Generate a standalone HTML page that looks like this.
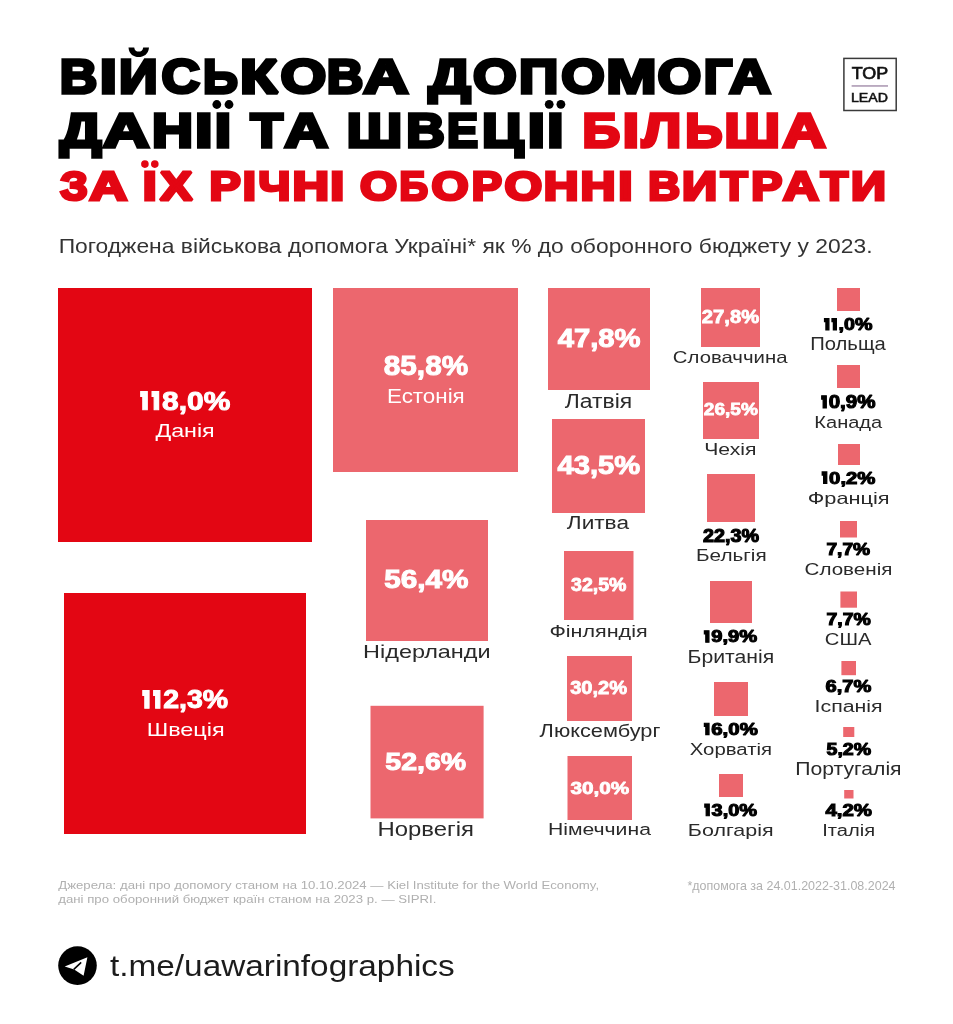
<!DOCTYPE html>
<html><head><meta charset="utf-8"><style>
html,body{margin:0;padding:0;background:#fff;}
svg{display:block;will-change:transform;}
text{font-family:"Liberation Sans",sans-serif;white-space:pre;}
</style></head><body>
<svg width="953" height="1024" viewBox="0 0 953 1024">
<rect x="0" y="0" width="953" height="1024" fill="#ffffff"/>
<rect x="58" y="288" width="254.0" height="254.0" fill="#e30613"/><rect x="64" y="593" width="242.0" height="241.0" fill="#e30613"/><rect x="333" y="288" width="185.0" height="184.0" fill="#ec676e"/><rect x="366" y="520" width="122.0" height="121.0" fill="#ec676e"/><rect x="370.5" y="705.8" width="113.1" height="112.6" fill="#ec676e"/><rect x="548" y="288" width="102.0" height="102.0" fill="#ec676e"/><rect x="552" y="419" width="93.0" height="94.0" fill="#ec676e"/><rect x="564" y="551" width="69.5" height="69.0" fill="#ec676e"/><rect x="567" y="656" width="65.0" height="65.0" fill="#ec676e"/><rect x="567.5" y="756" width="64.5" height="64.0" fill="#ec676e"/><rect x="701" y="288" width="59.0" height="59.0" fill="#ec676e"/><rect x="703" y="382" width="56.0" height="57.0" fill="#ec676e"/><rect x="707" y="474" width="48.0" height="48.0" fill="#ec676e"/><rect x="710" y="581" width="42.0" height="42.0" fill="#ec676e"/><rect x="714" y="682" width="34.0" height="34.0" fill="#ec676e"/><rect x="719" y="774" width="24.0" height="23.0" fill="#ec676e"/><rect x="837" y="288" width="23.0" height="23.0" fill="#ec676e"/><rect x="837" y="365" width="23.0" height="23.0" fill="#ec676e"/><rect x="838" y="444" width="22.0" height="21.0" fill="#ec676e"/><rect x="840" y="521" width="17.0" height="16.5" fill="#ec676e"/><rect x="840.4" y="591.5" width="16.6" height="16.2" fill="#ec676e"/><rect x="841.4" y="661" width="14.6" height="14.2" fill="#ec676e"/><rect x="843.2" y="727" width="11.1" height="10.0" fill="#ec676e"/><rect x="844.2" y="790" width="9.3" height="8.5" fill="#ec676e"/>
<rect x="843.9" y="58.4" width="52.3" height="52.1" fill="none" stroke="#3a3a3a" stroke-width="1.5"/><rect x="851.6" y="85.2" width="36.4" height="1.5" fill="#a994b0"/>
<circle cx="77.5" cy="965.6" r="19.3" fill="#000"/><path d="M64.7 966.6 L87.4 957.2 L83.6 975.8 L74.2 969.6 Z" fill="#fff"/><path d="M73.8 969.4 L81.2 962.4" stroke="#000" stroke-width="1.5" fill="none"/>
<circle cx="144.9" cy="164.1" r="3.8" fill="#e30613"/><circle cx="154.8" cy="164.1" r="3.8" fill="#e30613"/><circle cx="216.8" cy="104.5" r="4.4" fill="#000"/><circle cx="229" cy="104.5" r="4.4" fill="#000"/><circle cx="549.2" cy="104.3" r="4.4" fill="#000"/><circle cx="560.9" cy="104.3" r="4.4" fill="#000"/><path d="M128.5 47.5 C129 54.5 134 57 138.7 57 C143.4 57 148.4 54.5 149 47.5 L143.2 47.5 C142.8 50.5 141 51.6 138.7 51.6 C136.4 51.6 134.6 50.5 134.2 47.5 Z" fill="#000"/>
<text transform="translate(59.82,93.20) scale(1.0643,1)" font-size="48.84" font-weight="700" fill="#000000" stroke="#000000" stroke-width="3.40" stroke-linejoin="miter" stroke-miterlimit="2">В</text>
<text transform="translate(99.77,93.20) scale(1.2651,1)" font-size="48.84" font-weight="700" fill="#000000" stroke="#000000" stroke-width="3.40" stroke-linejoin="miter" stroke-miterlimit="2">І</text>
<text transform="translate(118.93,93.20) scale(1.1017,1)" font-size="48.84" font-weight="700" fill="#000000" stroke="#000000" stroke-width="3.40" stroke-linejoin="miter" stroke-miterlimit="2">И</text>
<text transform="translate(161.52,93.20) scale(1.0899,1)" font-size="48.84" font-weight="700" fill="#000000" stroke="#000000" stroke-width="3.40" stroke-linejoin="miter" stroke-miterlimit="2">С</text>
<text transform="translate(202.95,93.20) scale(0.9935,1)" font-size="48.84" font-weight="700" fill="#000000" stroke="#000000" stroke-width="3.40" stroke-linejoin="miter" stroke-miterlimit="2">Ь</text>
<text transform="translate(240.11,93.20) scale(1.2513,1)" font-size="48.84" font-weight="700" fill="#000000" stroke="#000000" stroke-width="3.40" stroke-linejoin="miter" stroke-miterlimit="2">К</text>
<text transform="translate(280.59,93.20) scale(1.2053,1)" font-size="48.84" font-weight="700" fill="#000000" stroke="#000000" stroke-width="3.40" stroke-linejoin="miter" stroke-miterlimit="2">О</text>
<text transform="translate(326.81,93.20) scale(1.0375,1)" font-size="48.84" font-weight="700" fill="#000000" stroke="#000000" stroke-width="3.40" stroke-linejoin="miter" stroke-miterlimit="2">В</text>
<text transform="translate(363.14,93.20) scale(1.2818,1)" font-size="48.84" font-weight="700" fill="#000000" stroke="#000000" stroke-width="3.40" stroke-linejoin="miter" stroke-miterlimit="2">А</text>
<text transform="translate(428.48,93.20) scale(1.2126,1)" font-size="48.84" font-weight="700" fill="#000000" stroke="#000000" stroke-width="3.40" stroke-linejoin="miter" stroke-miterlimit="2">Д</text>
<text transform="translate(473.09,93.20) scale(1.1522,1)" font-size="48.84" font-weight="700" fill="#000000" stroke="#000000" stroke-width="3.40" stroke-linejoin="miter" stroke-miterlimit="2">О</text>
<text transform="translate(518.94,93.20) scale(1.1201,1)" font-size="48.84" font-weight="700" fill="#000000" stroke="#000000" stroke-width="3.40" stroke-linejoin="miter" stroke-miterlimit="2">П</text>
<text transform="translate(561.20,93.20) scale(1.1463,1)" font-size="48.84" font-weight="700" fill="#000000" stroke="#000000" stroke-width="3.40" stroke-linejoin="miter" stroke-miterlimit="2">О</text>
<text transform="translate(606.36,93.20) scale(1.2358,1)" font-size="48.84" font-weight="700" fill="#000000" stroke="#000000" stroke-width="3.40" stroke-linejoin="miter" stroke-miterlimit="2">М</text>
<text transform="translate(657.59,93.20) scale(1.1522,1)" font-size="48.84" font-weight="700" fill="#000000" stroke="#000000" stroke-width="3.40" stroke-linejoin="miter" stroke-miterlimit="2">О</text>
<text transform="translate(703.84,93.20) scale(1.0271,1)" font-size="48.84" font-weight="700" fill="#000000" stroke="#000000" stroke-width="3.40" stroke-linejoin="miter" stroke-miterlimit="2">Г</text>
<text transform="translate(729.27,93.20) scale(1.1781,1)" font-size="48.84" font-weight="700" fill="#000000" stroke="#000000" stroke-width="3.40" stroke-linejoin="miter" stroke-miterlimit="2">А</text>
<text transform="translate(60.09,146.70) scale(1.2208,1)" font-size="47.68" font-weight="700" fill="#000000" stroke="#000000" stroke-width="3.40" stroke-linejoin="miter" stroke-miterlimit="2">Д</text>
<text transform="translate(103.10,146.70) scale(1.3444,1)" font-size="47.68" font-weight="700" fill="#000000" stroke="#000000" stroke-width="3.40" stroke-linejoin="miter" stroke-miterlimit="2">А</text>
<text transform="translate(152.10,146.70) scale(1.1917,1)" font-size="47.68" font-weight="700" fill="#000000" stroke="#000000" stroke-width="3.40" stroke-linejoin="miter" stroke-miterlimit="2">Н</text>
<text transform="translate(195.07,146.70) scale(1.3251,1)" font-size="47.68" font-weight="700" fill="#000000" stroke="#000000" stroke-width="3.40" stroke-linejoin="miter" stroke-miterlimit="2">І</text>
<text transform="translate(214.85,146.70) scale(1.2378,1)" font-size="47.68" font-weight="700" fill="#000000" stroke="#000000" stroke-width="3.40" stroke-linejoin="miter" stroke-miterlimit="2">І</text>
<text transform="translate(250.60,146.70) scale(1.1113,1)" font-size="47.68" font-weight="700" fill="#000000" stroke="#000000" stroke-width="3.40" stroke-linejoin="miter" stroke-miterlimit="2">Т</text>
<text transform="translate(284.60,146.70) scale(1.2631,1)" font-size="47.68" font-weight="700" fill="#000000" stroke="#000000" stroke-width="3.40" stroke-linejoin="miter" stroke-miterlimit="2">А</text>
<text transform="translate(346.71,146.70) scale(1.1558,1)" font-size="47.68" font-weight="700" fill="#000000" stroke="#000000" stroke-width="3.40" stroke-linejoin="miter" stroke-miterlimit="2">Ш</text>
<text transform="translate(406.14,146.70) scale(1.1178,1)" font-size="47.68" font-weight="700" fill="#000000" stroke="#000000" stroke-width="3.40" stroke-linejoin="miter" stroke-miterlimit="2">В</text>
<text transform="translate(446.89,146.70) scale(0.9758,1)" font-size="47.68" font-weight="700" fill="#000000" stroke="#000000" stroke-width="3.40" stroke-linejoin="miter" stroke-miterlimit="2">Е</text>
<text transform="translate(482.11,146.70) scale(1.1890,1)" font-size="47.68" font-weight="700" fill="#000000" stroke="#000000" stroke-width="3.40" stroke-linejoin="miter" stroke-miterlimit="2">Ц</text>
<text transform="translate(527.67,146.70) scale(1.2960,1)" font-size="47.68" font-weight="700" fill="#000000" stroke="#000000" stroke-width="3.40" stroke-linejoin="miter" stroke-miterlimit="2">І</text>
<text transform="translate(547.30,146.70) scale(1.2232,1)" font-size="47.68" font-weight="700" fill="#000000" stroke="#000000" stroke-width="3.40" stroke-linejoin="miter" stroke-miterlimit="2">І</text>
<text transform="translate(582.60,146.70) scale(1.0961,1)" font-size="47.68" font-weight="700" fill="#e30613" stroke="#e30613" stroke-width="3.40" stroke-linejoin="miter" stroke-miterlimit="2">Б</text>
<text transform="translate(622.70,146.70) scale(1.2232,1)" font-size="47.68" font-weight="700" fill="#e30613" stroke="#e30613" stroke-width="3.40" stroke-linejoin="miter" stroke-miterlimit="2">І</text>
<text transform="translate(642.08,146.70) scale(1.1704,1)" font-size="47.68" font-weight="700" fill="#e30613" stroke="#e30613" stroke-width="3.40" stroke-linejoin="miter" stroke-miterlimit="2">Л</text>
<text transform="translate(685.24,146.70) scale(1.0858,1)" font-size="47.68" font-weight="700" fill="#e30613" stroke="#e30613" stroke-width="3.40" stroke-linejoin="miter" stroke-miterlimit="2">Ь</text>
<text transform="translate(724.51,146.70) scale(1.1558,1)" font-size="47.68" font-weight="700" fill="#e30613" stroke="#e30613" stroke-width="3.40" stroke-linejoin="miter" stroke-miterlimit="2">Ш</text>
<text transform="translate(782.82,146.70) scale(1.2475,1)" font-size="47.68" font-weight="700" fill="#e30613" stroke="#e30613" stroke-width="3.40" stroke-linejoin="miter" stroke-miterlimit="2">А</text>
<text transform="translate(60.24,200.37) scale(1.0866,1)" font-size="40.47" font-weight="700" fill="#e30613" stroke="#e30613" stroke-width="3.06" stroke-linejoin="miter" stroke-miterlimit="2">З</text>
<text transform="translate(89.53,200.37) scale(1.2907,1)" font-size="40.47" font-weight="700" fill="#e30613" stroke="#e30613" stroke-width="3.06" stroke-linejoin="miter" stroke-miterlimit="2">А</text>
<text transform="translate(142.87,200.37) scale(1.2421,1)" font-size="40.47" font-weight="700" fill="#e30613" stroke="#e30613" stroke-width="3.06" stroke-linejoin="miter" stroke-miterlimit="2">І</text>
<text transform="translate(160.00,200.37) scale(1.2002,1)" font-size="40.47" font-weight="700" fill="#e30613" stroke="#e30613" stroke-width="3.06" stroke-linejoin="miter" stroke-miterlimit="2">Х</text>
<text transform="translate(209.39,200.37) scale(1.1589,1)" font-size="40.47" font-weight="700" fill="#e30613" stroke="#e30613" stroke-width="3.06" stroke-linejoin="miter" stroke-miterlimit="2">Р</text>
<text transform="translate(242.75,200.37) scale(1.1735,1)" font-size="40.47" font-weight="700" fill="#e30613" stroke="#e30613" stroke-width="3.06" stroke-linejoin="miter" stroke-miterlimit="2">І</text>
<text transform="translate(258.60,200.37) scale(1.1193,1)" font-size="40.47" font-weight="700" fill="#e30613" stroke="#e30613" stroke-width="3.06" stroke-linejoin="miter" stroke-miterlimit="2">Ч</text>
<text transform="translate(292.55,200.37) scale(1.2501,1)" font-size="40.47" font-weight="700" fill="#e30613" stroke="#e30613" stroke-width="3.06" stroke-linejoin="miter" stroke-miterlimit="2">Н</text>
<text transform="translate(330.37,200.37) scale(1.2421,1)" font-size="40.47" font-weight="700" fill="#e30613" stroke="#e30613" stroke-width="3.06" stroke-linejoin="miter" stroke-miterlimit="2">І</text>
<text transform="translate(360.07,200.37) scale(1.1787,1)" font-size="40.47" font-weight="700" fill="#e30613" stroke="#e30613" stroke-width="3.06" stroke-linejoin="miter" stroke-miterlimit="2">О</text>
<text transform="translate(399.58,200.37) scale(0.9801,1)" font-size="40.47" font-weight="700" fill="#e30613" stroke="#e30613" stroke-width="3.06" stroke-linejoin="miter" stroke-miterlimit="2">Б</text>
<text transform="translate(431.57,200.37) scale(1.1787,1)" font-size="40.47" font-weight="700" fill="#e30613" stroke="#e30613" stroke-width="3.06" stroke-linejoin="miter" stroke-miterlimit="2">О</text>
<text transform="translate(471.80,200.37) scale(1.1196,1)" font-size="40.47" font-weight="700" fill="#e30613" stroke="#e30613" stroke-width="3.06" stroke-linejoin="miter" stroke-miterlimit="2">Р</text>
<text transform="translate(504.54,200.37) scale(1.1964,1)" font-size="40.47" font-weight="700" fill="#e30613" stroke="#e30613" stroke-width="3.06" stroke-linejoin="miter" stroke-miterlimit="2">О</text>
<text transform="translate(543.71,200.37) scale(1.1913,1)" font-size="40.47" font-weight="700" fill="#e30613" stroke="#e30613" stroke-width="3.06" stroke-linejoin="miter" stroke-miterlimit="2">Н</text>
<text transform="translate(580.48,200.37) scale(1.1997,1)" font-size="40.47" font-weight="700" fill="#e30613" stroke="#e30613" stroke-width="3.06" stroke-linejoin="miter" stroke-miterlimit="2">Н</text>
<text transform="translate(618.17,200.37) scale(1.2764,1)" font-size="40.47" font-weight="700" fill="#e30613" stroke="#e30613" stroke-width="3.06" stroke-linejoin="miter" stroke-miterlimit="2">І</text>
<text transform="translate(648.29,200.37) scale(1.0876,1)" font-size="40.47" font-weight="700" fill="#e30613" stroke="#e30613" stroke-width="3.06" stroke-linejoin="miter" stroke-miterlimit="2">В</text>
<text transform="translate(682.08,200.37) scale(1.2089,1)" font-size="40.47" font-weight="700" fill="#e30613" stroke="#e30613" stroke-width="3.06" stroke-linejoin="miter" stroke-miterlimit="2">И</text>
<text transform="translate(720.74,200.37) scale(1.0844,1)" font-size="40.47" font-weight="700" fill="#e30613" stroke="#e30613" stroke-width="3.06" stroke-linejoin="miter" stroke-miterlimit="2">Т</text>
<text transform="translate(751.22,200.37) scale(1.1502,1)" font-size="40.47" font-weight="700" fill="#e30613" stroke="#e30613" stroke-width="3.06" stroke-linejoin="miter" stroke-miterlimit="2">Р</text>
<text transform="translate(782.99,200.37) scale(1.2281,1)" font-size="40.47" font-weight="700" fill="#e30613" stroke="#e30613" stroke-width="3.06" stroke-linejoin="miter" stroke-miterlimit="2">А</text>
<text transform="translate(820.63,200.37) scale(1.1054,1)" font-size="40.47" font-weight="700" fill="#e30613" stroke="#e30613" stroke-width="3.06" stroke-linejoin="miter" stroke-miterlimit="2">Т</text>
<text transform="translate(851.00,200.37) scale(1.2005,1)" font-size="40.47" font-weight="700" fill="#e30613" stroke="#e30613" stroke-width="3.06" stroke-linejoin="miter" stroke-miterlimit="2">И</text>
<text transform="translate(58.65,252.90) scale(1.0996,1)" font-size="20.79" font-weight="400" fill="#333333">Погоджена військова допомога Україні* як % до оборонного бюджету у 2023.</text>
<g transform="translate(139.35,409.70) scale(1.1354,1)" fill="#ffffff" stroke="#ffffff" stroke-width="1.00" stroke-linejoin="miter" stroke-miterlimit="2"><text font-size="26.35" font-weight="700" dx="0.00 -4.64 -4.64 0.00 0.00 0.00">  8,0%</text><path d="M3.03 0.00H6.98V-18.13H1.19V-13.18H3.03ZM13.04 0.00H17.00V-18.13H11.20V-13.18H13.04Z"/></g>
<text transform="translate(155.43,436.60) scale(1.2307,1)" font-size="18.90" font-weight="400" fill="#ffffff">Данія</text>
<g transform="translate(141.52,708.30) scale(1.1057,1)" fill="#ffffff" stroke="#ffffff" stroke-width="1.00" stroke-linejoin="miter" stroke-miterlimit="2"><text font-size="25.78" font-weight="700" dx="0.00 -4.54 -4.54 0.00 0.00 0.00">  2,3%</text><path d="M2.96 0.00H6.83V-17.74H1.16V-12.89H2.96ZM12.76 0.00H16.63V-17.74H10.96V-12.89H12.76Z"/></g>
<text transform="translate(146.68,735.50) scale(1.2219,1)" font-size="19.19" font-weight="400" fill="#ffffff">Швеція</text>
<text transform="translate(383.75,374.90) scale(1.0886,1)" font-size="27.35" font-weight="700" fill="#ffffff" stroke="#ffffff" stroke-width="1.00" stroke-linejoin="miter" stroke-miterlimit="2">85,8%</text>
<text transform="translate(386.96,402.50) scale(1.0622,1)" font-size="21.08" font-weight="400" fill="#ffffff">Естонія</text>
<text transform="translate(384.19,588.30) scale(1.1862,1)" font-size="25.06" font-weight="700" fill="#ffffff" stroke="#ffffff" stroke-width="1.00" stroke-linejoin="miter" stroke-miterlimit="2">56,4%</text>
<text transform="translate(363.08,658.20) scale(1.2221,1)" font-size="19.19" font-weight="400" fill="#2a2a2a">Нідерланди</text>
<text transform="translate(385.32,769.50) scale(1.1723,1)" font-size="24.35" font-weight="700" fill="#ffffff" stroke="#ffffff" stroke-width="1.00" stroke-linejoin="miter" stroke-miterlimit="2">52,6%</text>
<text transform="translate(377.44,835.60) scale(1.2269,1)" font-size="19.48" font-weight="400" fill="#2a2a2a">Норвегія</text>
<text transform="translate(557.66,347.20) scale(1.1219,1)" font-size="26.07" font-weight="700" fill="#ffffff" stroke="#ffffff" stroke-width="1.00" stroke-linejoin="miter" stroke-miterlimit="2">47,8%</text>
<text transform="translate(564.80,407.80) scale(1.1032,1)" font-size="20.79" font-weight="400" fill="#2a2a2a">Латвія</text>
<text transform="translate(557.56,473.60) scale(1.1706,1)" font-size="24.92" font-weight="700" fill="#ffffff" stroke="#ffffff" stroke-width="1.00" stroke-linejoin="miter" stroke-miterlimit="2">43,5%</text>
<text transform="translate(566.80,529.40) scale(1.1974,1)" font-size="18.90" font-weight="400" fill="#2a2a2a">Литва</text>
<text transform="translate(571.05,590.80) scale(1.1104,1)" font-size="17.62" font-weight="700" fill="#ffffff" stroke="#ffffff" stroke-width="0.80" stroke-linejoin="miter" stroke-miterlimit="2">32,5%</text>
<text transform="translate(549.46,636.50) scale(1.2982,1)" font-size="16.60" font-weight="400" fill="#2a2a2a">Фінляндія</text>
<text transform="translate(570.14,693.90) scale(1.1158,1)" font-size="18.05" font-weight="700" fill="#ffffff" stroke="#ffffff" stroke-width="0.80" stroke-linejoin="miter" stroke-miterlimit="2">30,2%</text>
<text transform="translate(539.61,737.30) scale(1.2182,1)" font-size="17.88" font-weight="400" fill="#2a2a2a">Люксембург</text>
<text transform="translate(570.42,793.50) scale(1.2071,1)" font-size="17.19" font-weight="700" fill="#ffffff" stroke="#ffffff" stroke-width="0.80" stroke-linejoin="miter" stroke-miterlimit="2">30,0%</text>
<text transform="translate(547.96,834.80) scale(1.2785,1)" font-size="16.57" font-weight="400" fill="#2a2a2a">Німеччина</text>
<text transform="translate(701.80,323.00) scale(1.1050,1)" font-size="18.33" font-weight="700" fill="#ffffff" stroke="#ffffff" stroke-width="0.80" stroke-linejoin="miter" stroke-miterlimit="2">27,8%</text>
<text transform="translate(672.87,362.50) scale(1.2035,1)" font-size="16.90" font-weight="400" fill="#2a2a2a">Словаччина</text>
<text transform="translate(703.84,415.30) scale(1.1283,1)" font-size="16.90" font-weight="700" fill="#ffffff" stroke="#ffffff" stroke-width="0.80" stroke-linejoin="miter" stroke-miterlimit="2">26,5%</text>
<text transform="translate(704.24,455.30) scale(1.2569,1)" font-size="16.86" font-weight="400" fill="#2a2a2a">Чехія</text>
<text transform="translate(703.07,541.65) scale(1.1122,1)" font-size="17.76" font-weight="700" fill="#000000" stroke="#000000" stroke-width="1.10" stroke-linejoin="miter" stroke-miterlimit="2">22,3%</text>
<text transform="translate(696.00,561.20) scale(1.1986,1)" font-size="17.30" font-weight="400" fill="#2a2a2a">Бельгія</text>
<g transform="translate(703.54,642.15) scale(1.2223,1)" fill="#000000" stroke="#000000" stroke-width="1.10" stroke-linejoin="miter" stroke-miterlimit="2"><text font-size="16.47" font-weight="700" dx="0.00 -2.90 0.00 0.00 0.00"> 9,9%</text><path d="M1.89 0.00H4.36V-11.33H0.74V-8.23H1.89Z"/></g>
<text transform="translate(687.56,662.80) scale(1.1859,1)" font-size="17.88" font-weight="400" fill="#2a2a2a">Британія</text>
<g transform="translate(703.53,734.65) scale(1.2281,1)" fill="#000000" stroke="#000000" stroke-width="1.10" stroke-linejoin="miter" stroke-miterlimit="2"><text font-size="16.61" font-weight="700" dx="0.00 -2.93 0.00 0.00 0.00"> 6,0%</text><path d="M1.91 0.00H4.40V-11.43H0.75V-8.31H1.91Z"/></g>
<text transform="translate(689.74,754.60) scale(1.2081,1)" font-size="16.86" font-weight="400" fill="#2a2a2a">Хорватія</text>
<g transform="translate(703.95,815.75) scale(1.1821,1)" fill="#000000" stroke="#000000" stroke-width="1.10" stroke-linejoin="miter" stroke-miterlimit="2"><text font-size="16.90" font-weight="700" dx="0.00 -2.98 0.00 0.00 0.00"> 3,0%</text><path d="M1.94 0.00H4.48V-11.63H0.76V-8.45H1.94Z"/></g>
<text transform="translate(687.84,835.70) scale(1.2961,1)" font-size="16.57" font-weight="400" fill="#2a2a2a">Болгарія</text>
<g transform="translate(823.67,330.05) scale(1.1729,1)" fill="#000000" stroke="#000000" stroke-width="1.10" stroke-linejoin="miter" stroke-miterlimit="2"><text font-size="16.76" font-weight="700" dx="0.00 -2.95 -2.95 0.00 0.00">  ,0%</text><path d="M1.93 0.00H4.44V-11.53H0.75V-8.38H1.93ZM8.29 0.00H10.81V-11.53H7.12V-8.38H8.29Z"/></g>
<text transform="translate(810.26,349.80) scale(1.1495,1)" font-size="17.59" font-weight="400" fill="#2a2a2a">Польща</text>
<g transform="translate(820.83,407.95) scale(1.1648,1)" fill="#000000" stroke="#000000" stroke-width="1.10" stroke-linejoin="miter" stroke-miterlimit="2"><text font-size="17.62" font-weight="700" dx="0.00 -3.10 0.00 0.00 0.00"> 0,9%</text><path d="M2.03 0.00H4.67V-12.12H0.79V-8.81H2.03Z"/></g>
<text transform="translate(814.35,427.90) scale(1.2108,1)" font-size="16.57" font-weight="400" fill="#2a2a2a">Канада</text>
<g transform="translate(821.34,483.55) scale(1.2027,1)" fill="#000000" stroke="#000000" stroke-width="1.10" stroke-linejoin="miter" stroke-miterlimit="2"><text font-size="16.90" font-weight="700" dx="0.00 -2.98 0.00 0.00 0.00"> 0,2%</text><path d="M1.94 0.00H4.48V-11.63H0.76V-8.45H1.94Z"/></g>
<text transform="translate(807.75,503.50) scale(1.3345,1)" font-size="16.31" font-weight="400" fill="#2a2a2a">Франція</text>
<text transform="translate(826.43,555.45) scale(1.1353,1)" font-size="16.90" font-weight="700" fill="#000000" stroke="#000000" stroke-width="1.10" stroke-linejoin="miter" stroke-miterlimit="2">7,7%</text>
<text transform="translate(804.55,575.20) scale(1.2509,1)" font-size="16.47" font-weight="400" fill="#2a2a2a">Словенія</text>
<text transform="translate(826.41,625.45) scale(1.1514,1)" font-size="16.90" font-weight="700" fill="#000000" stroke="#000000" stroke-width="1.10" stroke-linejoin="miter" stroke-miterlimit="2">7,7%</text>
<text transform="translate(824.77,645.20) scale(1.2289,1)" font-size="16.47" font-weight="400" fill="#2a2a2a">США</text>
<text transform="translate(825.61,692.25) scale(1.1683,1)" font-size="17.19" font-weight="700" fill="#000000" stroke="#000000" stroke-width="1.10" stroke-linejoin="miter" stroke-miterlimit="2">6,7%</text>
<text transform="translate(814.53,712.10) scale(1.2346,1)" font-size="17.30" font-weight="400" fill="#2a2a2a">Іспанія</text>
<text transform="translate(826.55,755.15) scale(1.1583,1)" font-size="16.90" font-weight="700" fill="#000000" stroke="#000000" stroke-width="1.10" stroke-linejoin="miter" stroke-miterlimit="2">5,2%</text>
<text transform="translate(795.28,774.80) scale(1.2139,1)" font-size="17.44" font-weight="400" fill="#2a2a2a">Португалія</text>
<text transform="translate(825.44,816.05) scale(1.1883,1)" font-size="17.19" font-weight="700" fill="#000000" stroke="#000000" stroke-width="1.10" stroke-linejoin="miter" stroke-miterlimit="2">4,2%</text>
<text transform="translate(822.14,836.00) scale(1.1952,1)" font-size="16.86" font-weight="400" fill="#2a2a2a">Італія</text>
<text transform="translate(58.30,889.30) scale(1.1350,1)" font-size="11.63" font-weight="400" fill="#b0b0b0">Джерела: дані про допомогу станом на 10.10.2024 — Kiel Institute for the World Economy,</text>
<text transform="translate(58.27,902.70) scale(1.1402,1)" font-size="11.60" font-weight="400" fill="#b0b0b0">дані про оборонний бюджет країн станом на 2023 р. — SIPRI.</text>
<text transform="translate(687.40,890.10) scale(0.9911,1)" font-size="12.60" font-weight="400" fill="#b0b0b0">*допомога за 24.01.2022-31.08.2024</text>
<text transform="translate(110.00,975.60) scale(1.1400,1)" font-size="29.26" font-weight="400" fill="#1c1c1c">t.me/uawarinfographics</text>
<text transform="translate(851.75,79.05) scale(1.0638,1)" font-size="16.86" font-weight="400" fill="#111" stroke="#111" stroke-width="0.70" stroke-linejoin="miter" stroke-miterlimit="2">TOP</text>
<text transform="translate(850.94,101.80) scale(1.0349,1)" font-size="13.66" font-weight="400" fill="#111" stroke="#111" stroke-width="0.60" stroke-linejoin="miter" stroke-miterlimit="2">LEAD</text>
</svg>
</body></html>
